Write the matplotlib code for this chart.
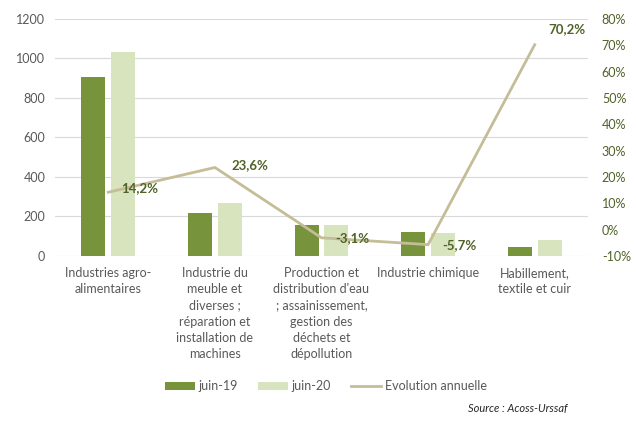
import numpy as np
import matplotlib
matplotlib.use("Agg")
import matplotlib.pyplot as plt

categories = [
    "Industries agro-\nalimentaires",
    "Industrie du\nmeuble et\ndiverses ;\nréparation et\ninstallation de\nmachines",
    "Production et\ndistribution d'eau\n; assainissement,\ngestion des\ndéchets et\ndépollution",
    "Industrie chimique",
    "Habillement,\ntextile et cuir",
]
juin_19 = [905, 218, 157, 120, 45]
juin_20 = [1033, 268, 157, 115, 80]
evolution = [14.2, 23.6, -3.1, -5.7, 70.2]
evolution_labels = ["14,2%", "23,6%", "-3,1%", "-5,7%", "70,2%"]

C19 = "#77933C"
C20 = "#D7E4BD"
CLINE = "#C4BD97"
CLABEL = "#4F6228"
GRAY = "#595959"

plt.rcParams["font.family"] = ["Lato", "DejaVu Sans"]

fig = plt.figure(figsize=(6.36, 4.21), dpi=100)
ax = fig.add_axes([0.0865, 0.392, 0.838, 0.563])
ax2 = ax.twinx()

x = np.arange(len(categories))
w = 0.225
ax.bar(x - 0.14, juin_19, w, color=C19, label="juin-19", zorder=2)
ax.bar(x + 0.14, juin_20, w, color=C20, label="juin-20", zorder=2)
ax2.plot(x, evolution, color=CLINE, lw=2, label="Evolution annuelle")

ax.set_xlim(-0.5, len(categories) - 0.5)
ax.set_ylim(0, 1200)
ax.set_yticks(np.arange(0, 1201, 200))
ax.grid(axis="y", color="#D9D9D9", lw=0.8, zorder=0)
ax.set_axisbelow(True)
ax.set_xticks(x)
ax.set_xticklabels(categories, fontsize=9.3, color=GRAY, linespacing=1.42)
ax.tick_params(axis="both", length=0, labelsize=9, labelcolor=GRAY)
ax.tick_params(axis="y", pad=7)
ax.tick_params(axis="x", pad=8)

ax2.set_ylim(-10, 80)
ax2.set_yticks(np.arange(-10, 81, 10))
ax2.set_yticklabels([f"{v}%" for v in range(-10, 81, 10)])
ax2.tick_params(axis="y", length=0, labelsize=9, labelcolor=CLABEL, pad=10)

for a in (ax, ax2):
    for s in a.spines.values():
        s.set_visible(False)

# label offsets in points
offsets = [(9, 3), (12, 2), (10, 0), (10, 0), (10, 11)]
for xi, v, lab, (dx, dy) in zip(x, evolution, evolution_labels, offsets):
    ax2.annotate(lab, (xi, v), xytext=(dx, dy), textcoords="offset points",
                 ha="left", va="center", fontsize=9.5, fontweight="bold", color=CLABEL)

h1, l1 = ax.get_legend_handles_labels()
h2, l2 = ax2.get_legend_handles_labels()
fig.legend(h1 + h2, l1 + l2, loc="center", bbox_to_anchor=(0.512, 0.083), ncol=3,
           frameon=False, fontsize=9, labelcolor=GRAY, handlelength=2.4,
           handleheight=0.6, columnspacing=1.6, handletextpad=0.3)

fig.text(0.893, 0.03, "Source : Acoss-Urssaf", ha="right", va="center",
         fontsize=8, style="italic", color="#262626")

fig.savefig("out.png", dpi=100)
